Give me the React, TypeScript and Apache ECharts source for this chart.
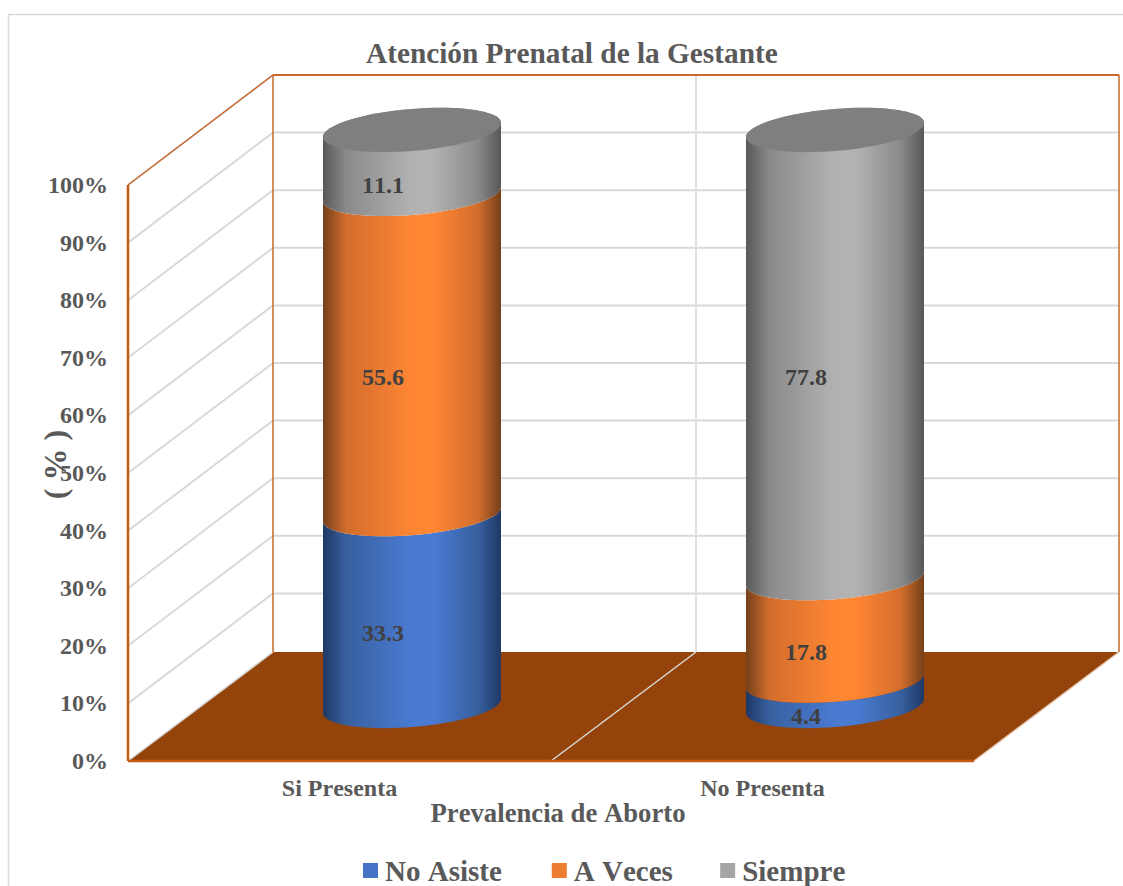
import React, { useEffect, useRef } from "react";
import * as echarts from "echarts";

const categories = ["Si Presenta", "No Presenta"];
const noAsiste = [33.3, 4.4];
const aVeces = [55.6, 17.8];
const siempre = [11.1, 77.8];
const yTicks = [10, 20, 30, 40, 50, 60, 70, 80, 90, 100];

const FONT = '"Liberation Serif", "Times New Roman", serif';
const TEXT = "#595959";
const DX = 145;
const DY = -110;
const RX = 89;
const RY = 21;
const SHEAR = 7;
const K = 0.5523;

const ramp = (edge: string, mid: string, light: string) => ({
  type: "linear", x: 0, y: 0, x2: 1, y2: 0,
  colorStops: [
    { offset: 0, color: edge },
    { offset: 0.13, color: mid },
    { offset: 0.5, color: light },
    { offset: 0.62, color: light },
    { offset: 0.87, color: mid },
    { offset: 1, color: edge },
  ],
});

const fills = [
  ramp("#1f3864", "#38609f", "#4a7bd2"),
  ramp("#74401a", "#d26d2d", "#ff8633"),
  ramp("#585858", "#8a8a8a", "#b2b2b2"),
];

// Point on the sheared ellipse, u and v in -1..1
const pt = (cx: number, cy: number, u: number, v: number) =>
  `${cx + u * RX} ${cy - u * SHEAR + v * RY}`;

const frontArc = (cx: number, cy: number) =>
  `C ${pt(cx, cy, -1, K)} ${pt(cx, cy, -K, 1)} ${pt(cx, cy, 0, 1)} C ${pt(cx, cy, K, 1)} ${pt(cx, cy, 1, K)} ${pt(cx, cy, 1, 0)}`;

const frontArcBack = (cx: number, cy: number) =>
  `C ${pt(cx, cy, 1, K)} ${pt(cx, cy, K, 1)} ${pt(cx, cy, 0, 1)} C ${pt(cx, cy, -K, 1)} ${pt(cx, cy, -1, K)} ${pt(cx, cy, -1, 0)}`;

const backArcBack = (cx: number, cy: number) =>
  `C ${pt(cx, cy, 1, -K)} ${pt(cx, cy, K, -1)} ${pt(cx, cy, 0, -1)} C ${pt(cx, cy, -K, -1)} ${pt(cx, cy, -1, -K)} ${pt(cx, cy, -1, 0)}`;

function stacked(name: string, values: number[], bases: number[], idx: number, cap: boolean, color: string) {
  return {
    type: "custom",
    name,
    coordinateSystem: "cartesian2d",
    clip: false,
    itemStyle: { color },
    encode: { x: 0, y: [1, 2] },
    data: values.map((v, i) => [i, bases[i], bases[i] + v, v]),
    renderItem: (_: any, api: any) => {
      const c = api.value(0);
      const lo = api.coord([c, api.value(1)]);
      const hi = api.coord([c, api.value(2)]);
      const cx = lo[0] + DX / 2;
      const y0 = lo[1] + DY / 2;
      const y1 = hi[1] + DY / 2;
      const d =
        `M ${pt(cx, y0, -1, 0)} ${frontArc(cx, y0)} L ${pt(cx, y1, 1, 0)} ` +
        (cap ? backArcBack(cx, y1) : frontArcBack(cx, y1)) + " Z";
      const children: any[] = [
        { type: "path", shape: { pathData: d }, style: { fill: fills[idx] } },
      ];
      if (cap) {
        children.push({
          type: "path",
          shape: { pathData: `M ${pt(cx, y1, -1, 0)} ${frontArc(cx, y1)} ${backArcBack(cx, y1)} Z` },
          style: { fill: "#7f7f7f" },
        });
      }
      children.push({
        type: "text",
        x: cx - 29,
        y: (y0 + y1) / 2 + RY + 2,
        style: {
          text: String(api.value(3)),
          align: "center",
          verticalAlign: "middle",
          fontFamily: FONT,
          fontWeight: "bold",
          fontSize: 24,
          fill: "#404040",
        },
      });
      return { type: "group", children };
    },
  };
}

const line = (x1: number, y1: number, x2: number, y2: number, stroke: string, lineWidth: number) => ({
  type: "line",
  shape: { x1, y1, x2, y2 },
  style: { stroke, lineWidth },
});

export default function App() {
  const ref = useRef<HTMLDivElement>(null);
  useEffect(() => {
    const chart = echarts.init(ref.current!, null, { renderer: "svg" });
    const base1 = noAsiste;
    const base2 = noAsiste.map((v, i) => v + aVeces[i]);
    chart.setOption({
      animation: false,
      backgroundColor: "#ffffff",
      title: {
        text: "Atención Prenatal de la Gestante",
        left: 361,
        top: 33,
        textStyle: { fontFamily: FONT, fontWeight: "bold", fontSize: 29.3, color: TEXT },
      },
      grid: { left: 128, top: 185, width: 846, height: 576, outerBoundsMode: "none" },
      legend: {
        data: ["No Asiste", "A Veces", "Siempre"],
        left: 363,
        top: 856,
        icon: "rect",
        itemWidth: 15,
        itemHeight: 15,
        itemGap: 50,
        padding: 0,
        textStyle: {
          fontFamily: FONT, fontWeight: "bold", fontSize: 29, color: TEXT,
          padding: [0, 0, 0, 2],
        },
      },
      graphic: [
        {
          type: "polyline",
          silent: true,
          z: -1,
          shape: { points: [[8.5, 886], [8.5, 14.5], [1123, 14.5]] },
          style: { fill: "none", stroke: "#d9d9d9", lineWidth: 1.5 },
        },
      ],
      xAxis: {
        type: "category",
        data: categories,
        axisLine: { show: false },
        axisTick: { show: false },
        splitLine: { show: false },
        axisLabel: {
          margin: 15,
          fontFamily: FONT, fontWeight: "bold", fontSize: 24, color: TEXT,
        },
        name: "Prevalencia de Aborto",
        nameLocation: "middle",
        nameGap: 38,
        nameMoveOverlap: false,
        nameTextStyle: {
          fontFamily: FONT, fontWeight: "bold", fontSize: 26.7, color: TEXT,
          padding: [0, 0, 0, 14],
        },
      },
      yAxis: {
        type: "value",
        min: 0,
        max: 100,
        interval: 10,
        axisLine: { show: false },
        axisTick: { show: false },
        splitLine: { show: false },
        axisLabel: {
          formatter: "{value}%",
          margin: 20,
          fontFamily: FONT, fontWeight: "bold", fontSize: 24, color: TEXT,
        },
        name: "( % )",
        nameLocation: "middle",
        nameGap: 57,
        nameMoveOverlap: false,
        nameRotate: 90,
        nameTextStyle: {
          fontFamily: FONT, fontWeight: "bold", fontSize: 32, color: TEXT,
          padding: [0, 0, 0, 17],
        },
      },
      series: [
        {
          type: "custom",
          coordinateSystem: "cartesian2d",
          clip: false,
          silent: true,
          data: yTicks.map((t) => [0, t]),
          encode: { x: 0, y: 1 },
          renderItem: (_: any, api: any) => {
            const y = api.coord([0, api.value(1)])[1];
            const s = api.size([1, 0])[0];
            const left = api.coord([0, 0])[0] - s / 2;
            const right = left + 2 * s;
            return {
              type: "group",
              children: [
                line(left, y, left + DX, y + DY, "#d9d9d9", 2),
                line(left + DX, y + DY, right + DX, y + DY, "#d9d9d9", 2),
              ],
            };
          },
        },
        {
          type: "custom",
          coordinateSystem: "cartesian2d",
          clip: false,
          silent: true,
          data: [[0, 0]],
          encode: { x: 0, y: 1 },
          renderItem: (_: any, api: any) => {
            const o = api.coord([0, 0]);
            const t = api.coord([0, 100]);
            const s = api.size([1, 0])[0];
            const l = o[0] - s / 2;
            const r = l + 2 * s;
            const m = l + s;
            const by = o[1];
            const ty = t[1];
            const edge = "#c9682c";
            return {
              type: "group",
              children: [
                {
                  type: "polygon",
                  shape: { points: [[l, by], [r, by], [r + DX, by + DY + 1], [l + DX, by + DY + 1]] },
                  style: { fill: "#94440b" },
                },
                line(m, by, m + DX, by + DY + 1, "#d9d9d9", 1.5),
                line(m + DX, by + DY + 1, m + DX, ty + DY, "#e0e0e0", 2),
                line(l, by, l + DX, by + DY + 1, "#d9d9d9", 1.5),
                line(r, by, r + DX, by + DY + 1, "#e8c8b0", 1.5),
                line(l, ty, l + DX, ty + DY, edge, 1.5),
                line(l + DX, ty + DY, r + DX, ty + DY, edge, 2),
                line(l + DX, ty + DY, l + DX, by + DY + 1, edge, 1.5),
                line(r + DX, ty + DY, r + DX, by + DY + 1, edge, 1.5),
                line(l, ty, l, by, "#c55a11", 2.5),
                line(l, by, r, by, "#c55a11", 2.5),
              ],
            };
          },
        },
        stacked("No Asiste", noAsiste, [0, 0], 0, false, "#4472c4"),
        stacked("A Veces", aVeces, base1, 1, false, "#ed7d31"),
        stacked("Siempre", siempre, base2, 2, true, "#a5a5a5"),
      ],
    });
    return () => chart.dispose();
  }, []);
  return (
    <div
      ref={ref}
      style={{ position: "fixed", left: 0, top: 0, width: 1123, height: 886, fontKerning: "none" }}
    />
  );
}
